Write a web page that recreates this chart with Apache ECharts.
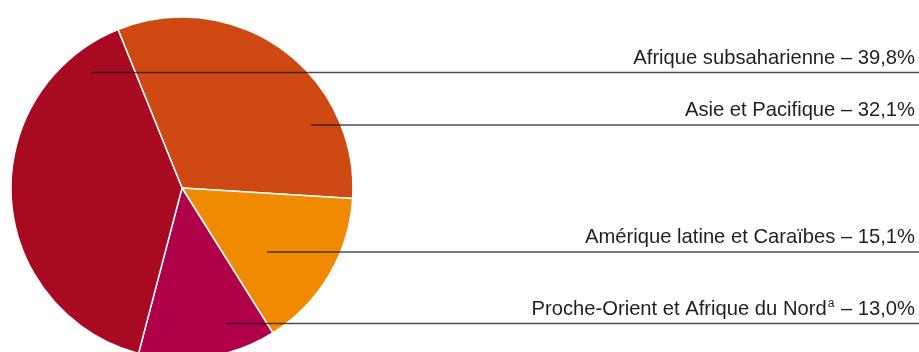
<!DOCTYPE html>
<html>
<head>
<meta charset="utf-8">
<script src="https://cdn.jsdelivr.net/npm/echarts@6/dist/echarts.min.js"></script>
<style>html,body{margin:0;padding:0;background:#fff;}#c{width:919px;height:352px;}</style>
</head>
<body>
<div id="c"></div>
<script>
// Data (clockwise from the top-left boundary)
const regions = ['Asie et Pacifique', 'Amérique latine et Caraïbes', 'Proche-Orient et Afrique du Nord', 'Afrique subsaharienne'];
const shares = [32.1, 15.1, 13.0, 39.8];
const notes = ['', '', 'a', ''];
const colors = ['#CF4A13', '#F08A00', '#B0004A', '#A80A21'];

// Layout for the label rows (annotation lines)
const rowY = [125, 252, 323.5, 72.5];
const lineStartX = [311, 267, 227, 91];
const rightEdge = 915;

const pieBase = {
  type: 'pie',
  center: [182, 188],
  radius: 171,
  startAngle: 112,
  clockwise: true,
  avoidLabelOverlap: false,
  emphasis: {disabled: true},
  silent: true
};

const chart = echarts.init(document.getElementById('c'), null, {renderer: 'canvas'});
chart.setOption({
  animation: false,
  series: [
    Object.assign({}, pieBase, {
      z: 2,
      itemStyle: {borderColor: '#fff', borderWidth: 1.5},
      label: {show: false},
      labelLine: {show: false},
      data: regions.map((r, i) => ({name: r, value: shares[i], itemStyle: {color: colors[i]}}))
    }),
    Object.assign({}, pieBase, {
      z: 5,
      itemStyle: {color: 'rgba(0,0,0,0)', borderWidth: 0},
      label: {
        show: true,
        position: 'outside',
        color: '#231f20',
        fontFamily: 'Liberation Sans, Arial, sans-serif',
        formatter: function (p) {
          const i = p.dataIndex;
          const v = shares[i].toFixed(1).replace('.', ',');
          return '{t|' + regions[i] + '}' + (notes[i] ? '{s|' + notes[i] + '}' : '') + '{t| – ' + v + '%}';
        },
        rich: {
          t: {fontSize: 20.2, lineHeight: 22, color: '#231f20', fontFamily: 'Liberation Sans, Arial, sans-serif'},
          s: {fontSize: 12, lineHeight: 22, verticalAlign: 'top', color: '#231f20', fontFamily: 'Liberation Sans, Arial, sans-serif', padding: [0, 1, 10, 1]}
        }
      },
      labelLine: {show: true, smooth: false, lineStyle: {color: 'rgba(20,20,20,0.75)', width: 1.3}},
      labelLayout: function (params) {
        const i = params.dataIndex;
        const y = rowY[i];
        return {
          x: rightEdge,
          y: y - 14.5,
          align: 'right',
          verticalAlign: 'middle',
          labelLinePoints: [[lineStartX[i], y], [rightEdge + 4, y], [rightEdge + 4, y]]
        };
      },
      data: regions.map((r, i) => ({name: r, value: shares[i]}))
    })
  ]
});
</script>
</body>
</html>
